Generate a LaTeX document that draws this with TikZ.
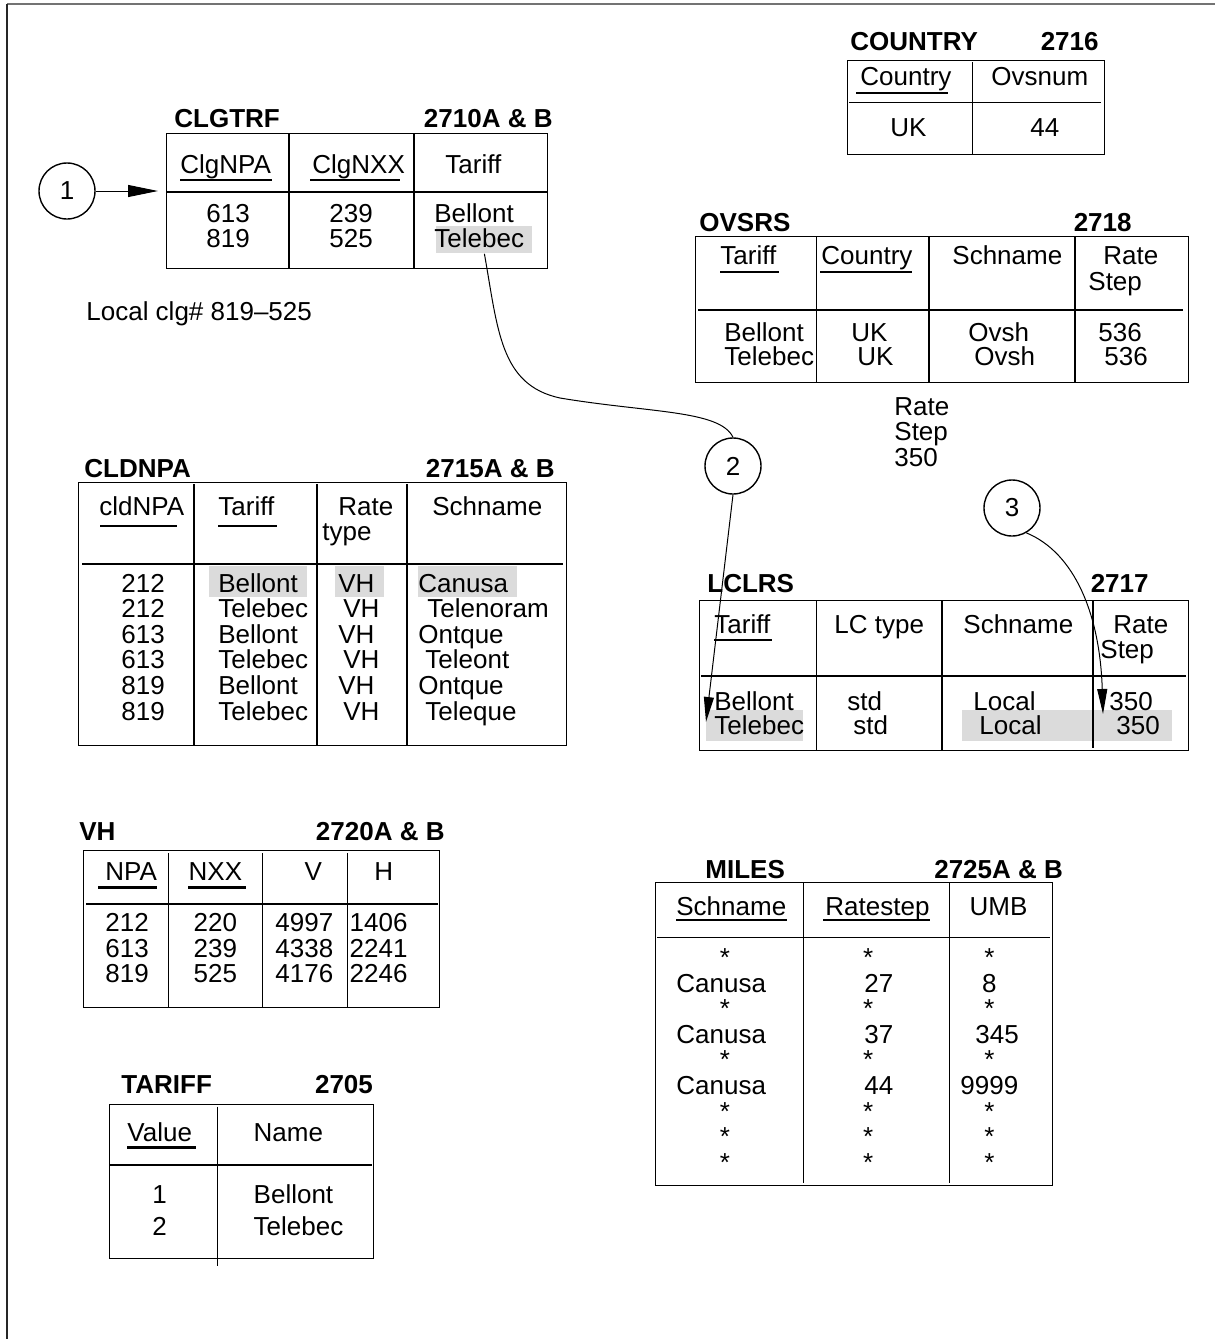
\documentclass[tikz,border=0pt]{standalone}
\usepackage{fontspec}
\setmainfont{Liberation Sans}
\usetikzlibrary{arrows.meta}
\begin{document}
\begin{tikzpicture}[x=0.5pt,y=-0.5pt,
  t/.style={anchor=base west,inner sep=0pt,font=\fontsize{13}{13}\selectfont},
  tc/.style={t,anchor=base},
  ttl/.style={t,font=\fontsize{13}{13}\selectfont\bfseries},
  ttr/.style={ttl,anchor=base east},
  tbox/.style={draw,line width=0.7pt,anchor=north west,inner sep=0pt},
  grid/.style={line width=0.7pt},
  ul/.style={line width=1.1pt},
  hl/.style={fill=black!14,inner sep=0pt,anchor=north west,minimum height=15.5pt},
  conn/.style={line width=0.5pt},
  bubble/.style={circle,draw,line width=0.7pt,minimum size=28pt,inner sep=0pt,font=\fontsize{13}{13}\selectfont}]
\useasboundingbox (0,0) rectangle (1215,1339);
% frame
\draw[line width=1pt,black!55] (7,4) -- (1215,4);
\draw[line width=1pt,black!85] (7,4) -- (7,1339);

% ---------------- CLGTRF
\node[hl,minimum width=48pt,minimum height=13.5pt] (clgTel) at (436,226) {};
\node[ttl] (clgT) at (174,127) {CLGTRF};
\node[ttr] (clgN) at (553,127) {2710A \& B};
\node[tbox,minimum width=190.5pt,minimum height=67.5pt] (clgBox) at (166,133) {};
\draw[grid] (289,133) -- (289,268) (414,133) -- (414,268) (166,192) -- (547,192);
\node[t] (clgH1) at (180,173) {ClgNPA}; \draw[ul] (180,180) -- (272,180);
\node[t] (clgH2) at (312,173) {ClgNXX}; \draw[ul] (310,180) -- (400,180);
\node[t] (clgH3) at (445,173) {Tariff};
\node[t] (clgA1) at (206,222) {613};
\node[t] (clgA2) at (206,247) {819};
\node[t] (clgB1) at (329,222) {239};
\node[t] (clgB2) at (329,247) {525};
\node[t] (clgC1) at (434,222) {Bellont};
\node[t] (clgC2) at (434,247) {Telebec};
\node[t] (localclg) at (86,320) {Local clg\# 819--525};

% ---------------- COUNTRY
\node[ttl] (couT) at (850,50) {COUNTRY};
\node[ttr] (couN) at (1099,50) {2716};
\node[tbox,minimum width=128.5pt,minimum height=47pt] (couBox) at (847,60) {};
\draw[grid] (972.5,62) -- (972.5,154) (849,102.5) -- (1101,102.5);
\node[t] (couH1) at (860,85) {Country}; \draw[ul] (856,93) -- (948,93);
\node[t] (couH2) at (991,85) {Ovsnum};
\node[t] (couA1) at (890,136) {UK};
\node[t] (couB1) at (1030,136) {44};

% ---------------- OVSRS
\node[ttl] (ovsT) at (699,231) {OVSRS};
\node[ttr] (ovsN) at (1132,231) {2718};
\node[tbox,minimum width=246.5pt,minimum height=73pt] (ovsBox) at (695,236) {};
\draw[grid] (816.5,236) -- (816.5,382) (929,236) -- (929,382) (1075,236) -- (1075,382) (698,310) -- (1183,310);
\node[t] (ovsH1) at (720,264) {Tariff}; \draw[ul] (720,272) -- (779,272);
\node[t] (ovsH2) at (821,264) {Country}; \draw[ul] (820,272) -- (912,272);
\node[t] (ovsH3) at (952,264) {Schname};
\node[t] (ovsH4) at (1103,264) {Rate};
\node[t] (ovsH4b) at (1088,290) {Step};
\node[t] (ovsA1) at (724,341) {Bellont};
\node[t] (ovsA2) at (724,365) {Telebec};
\node[t] (ovsB1) at (851,341) {UK};
\node[t] (ovsB2) at (857,365) {UK};
\node[t] (ovsC1) at (968,341) {Ovsh};
\node[t] (ovsC2) at (974,365) {Ovsh};
\node[t] (ovsD1) at (1098,341) {536};
\node[t] (ovsD2) at (1104,365) {536};

% Rate Step 350
\node[t] (rs1) at (894,415) {Rate};
\node[t] (rs2) at (894,440.5) {Step};
\node[t] (rs3) at (894,466) {350};

% ---------------- CLDNPA
\node[hl,minimum width=49pt] (cldHl1) at (209,566) {};
\node[hl,minimum width=24.5pt] (cldHl2) at (335,566) {};
\node[hl,minimum width=49.5pt] (cldHl3) at (418,566) {};
\node[ttl] (cldT) at (84,477) {CLDNPA};
\node[ttr] (cldN) at (555,477) {2715A \& B};
\node[tbox,minimum width=244pt,minimum height=131.5pt] (cldBox) at (78,482) {};
\draw[grid] (194,484) -- (194,745) (317,484) -- (317,745) (407,484) -- (407,745) (82,564) -- (563,564);
\node[t] (cldH1) at (99,515) {cldNPA}; \draw[ul] (100,526) -- (177,526);
\node[t] (cldH2) at (218,515) {Tariff}; \draw[ul] (218,526) -- (277,526);
\node[t] (cldH3) at (338,515) {Rate};
\node[t] (cldH3b) at (322,540) {type};
\node[t] (cldH4) at (432,515) {Schname};
\foreach \v [count=\i] in {212,212,613,613,819,819}
  \node[t] (cldA\i) at (121,{592+25.6*(\i-1)}) {\v};
\foreach \v [count=\i] in {Bellont,Telebec,Bellont,Telebec,Bellont,Telebec}
  \node[t] (cldB\i) at (218,{592+25.6*(\i-1)}) {\v};
\foreach \xx [count=\i] in {338,343,338,343,338,343}
  \node[t] (cldC\i) at (\xx,{592+25.6*(\i-1)}) {VH};
\foreach \v/\xx [count=\i] in {Canusa/418,Telenoram/427,Ontque/418,Teleont/425,Ontque/418,Teleque/425}
  \node[t] (cldD\i) at (\xx,{592+25.6*(\i-1)}) {\v};

% ---------------- LCLRS
\node[hl,minimum width=48.5pt] (lclTel) at (706,710) {};
\node[hl,minimum width=105pt] (lclLoc) at (962,710) {};
\node[ttl] (lclT) at (707,592) {LCLRS};
\node[ttr] (lclN) at (1149,592) {2717};
\node[tbox,minimum width=244.25pt,minimum height=75pt] (lclBox) at (699,600) {};
\draw[grid] (816.5,600) -- (816.5,750) (942,600) -- (942,750) (1093,600) -- (1093,748) (701,676) -- (1186,676);
\node[t] (lclH1) at (714,633) {Tariff}; \draw[ul] (714,640) -- (771.5,640);
\node[t] (lclH2) at (834,633) {LC type};
\node[t] (lclH3) at (963,633) {Schname};
\node[t] (lclH4) at (1113,633) {Rate};
\node[t] (lclH4b) at (1100,658) {Step};
\node[t] (lclA1) at (714,710) {Bellont};
\node[t] (lclA2) at (714,734) {Telebec};
\node[t] (lclB1) at (847,710) {std};
\node[t] (lclB2) at (853,734) {std};
\node[t] (lclC1) at (973,710) {Local};
\node[t] (lclC2) at (979,734) {Local};
\node[t] (lclD1) at (1109,710) {350};
\node[t] (lclD2) at (1116,734) {350};

% ---------------- VH
\node[ttl] (vhT) at (79,840) {VH};
\node[ttr] (vhN) at (445,840) {2720A \& B};
\node[tbox,minimum width=178pt,minimum height=78.5pt] (vhBox) at (83,850) {};
\draw[grid] (168.3,853) -- (168.3,1007) (262.7,853) -- (262.7,1007) (347.3,853) -- (347.3,1007) (86,904) -- (437.7,904);
\node[t] (vhH1) at (105,880.7) {NPA}; \draw[ul] (98.3,887.5) -- (156.7,887.5);
\node[t] (vhH2) at (188.3,880.7) {NXX}; \draw[ul] (188.3,887.5) -- (246,887.5);
\node[t] (vhH3) at (304.3,880.7) {V};
\node[t] (vhH4) at (374,880.7) {H};
\foreach \a/\b/\c/\d [count=\i] in {212/220/4997/1406,613/239/4338/2241,819/525/4176/2246}{
  \node[t] (vhA\i) at (105,{931.7+25.3*(\i-1)}) {\a};
  \node[t] (vhB\i) at (193.3,{931.7+25.3*(\i-1)}) {\b};
  \node[t] (vhC\i) at (275,{931.7+25.3*(\i-1)}) {\c};
  \node[t] (vhD\i) at (349.3,{931.7+25.3*(\i-1)}) {\d};
}

% ---------------- MILES
\node[ttl] (milT) at (705,878.3) {MILES};
\node[ttr] (milN) at (1063.3,878.3) {2725A \& B};
\node[tbox,minimum width=198.5pt,minimum height=151.5pt] (milBox) at (655,882) {};
\draw[grid] (803.3,883) -- (803.3,1183) (949.3,883) -- (949.3,1183) (657,937.7) -- (1050,937.7);
\node[t] (milH1) at (676,915) {Schname}; \draw[ul] (676,920) -- (786.7,920);
\node[t] (milH2) at (825,915) {Ratestep}; \draw[ul] (823,920) -- (930,920);
\node[t] (milH3) at (969.3,915) {UMB};
\foreach \i in {1,3,5,7,8,9}{
  \node[tc] (milS\i a) at (725,{966.5+25.6*(\i-1)}) {*};
  \node[tc] (milS\i b) at (868.3,{966.5+25.6*(\i-1)}) {*};
  \node[tc] (milS\i c) at (989.3,{966.5+25.6*(\i-1)}) {*};
}
\foreach \i/\r/\u/\ux in {2/27/8/981.7,4/37/345/975,6/44/9999/960}{
  \node[t] (milA\i) at (676,{966.5+25.6*(\i-1)}) {Canusa};
  \node[t] (milB\i) at (864,{966.5+25.6*(\i-1)}) {\r};
  \node[t] (milC\i) at (\ux,{966.5+25.6*(\i-1)}) {\u};
}

% ---------------- TARIFF
\node[ttl] (tarT) at (121,1093.3) {TARIFF};
\node[ttr] (tarN) at (373.3,1093.3) {2705};
\node[tbox,minimum width=132pt,minimum height=77pt] (tarBox) at (109,1104) {};
\draw[grid] (217.7,1106.7) -- (217.7,1266) (110,1165) -- (371.7,1165);
\node[t] (tarH1) at (127,1141.7) {Value}; \draw[ul] (127,1147.5) -- (196,1147.5);
\node[t] (tarH2) at (253.3,1141.7) {Name};
\node[t] (tarA1) at (152,1203.3) {1};
\node[t] (tarA2) at (152,1235) {2};
\node[t] (tarB1) at (253.3,1203.3) {Bellont};
\node[t] (tarB2) at (253.3,1235) {Telebec};

% ---------------- bubbles and connectors
\node[bubble] (c1) at (67,191) {1};
\node[bubble] (c2) at (733,466) {2};
\node[bubble] (c3) at (1012,508) {3};

\draw[conn,-{Triangle[length=15pt,width=6pt]},shorten >=4pt] (c1) -- (c1 -| clgBox.west);
\draw[conn] (clgTel.south) .. controls (498,330) and (500,385) .. (560,398)
  .. controls (650,413) and (720,410) .. (c2.north);
\coordinate (t2) at ([yshift=-6pt]lclTel.north west);
\draw[conn,-{Triangle[length=12.5pt,width=5pt]}] (c2.south) -- (t2);
\coordinate (t3) at ([xshift=70.5pt,yshift=-2pt]lclLoc.north west);
\draw[conn,-{Triangle[length=12.5pt,width=5pt]}] (c3.-60) .. controls (1075,553) and (1100,615) .. (t3);
\end{tikzpicture}
\end{document}
